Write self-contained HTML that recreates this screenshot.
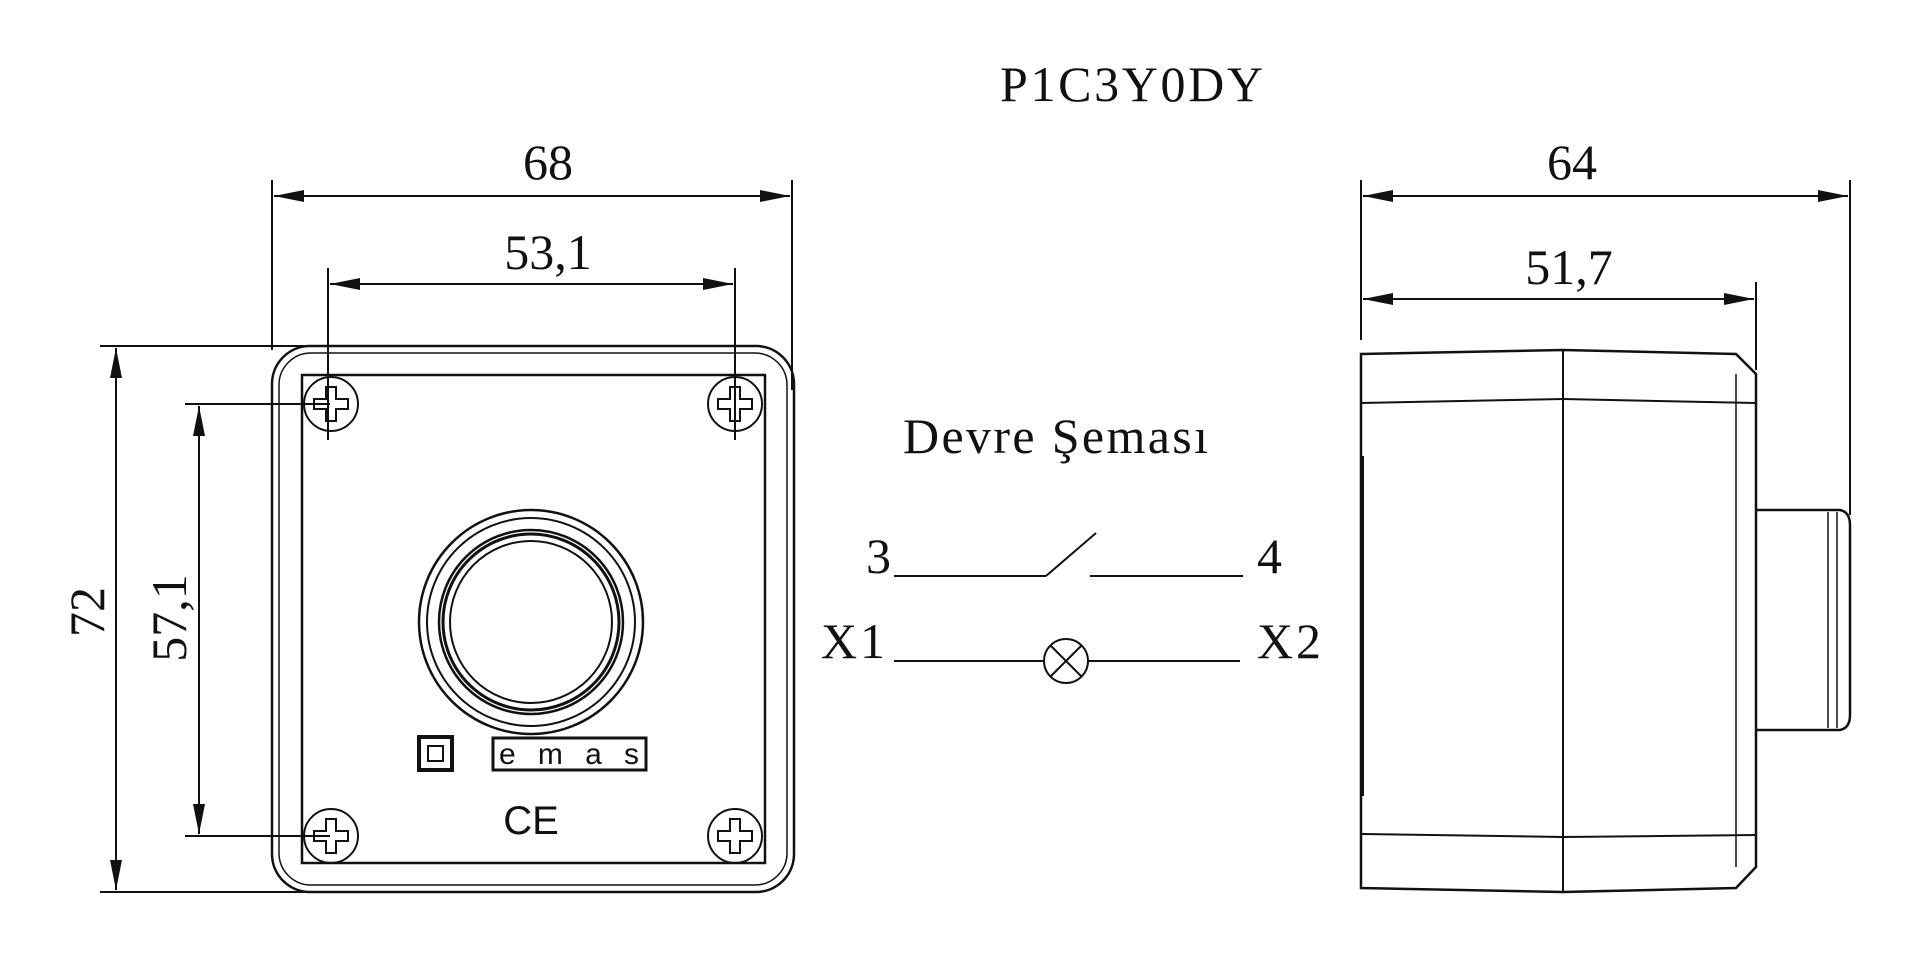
<!DOCTYPE html>
<html><head><meta charset="utf-8"><style>
html,body{margin:0;padding:0;background:#fff;width:1920px;height:970px;overflow:hidden}
svg text{font-family:"Liberation Serif",serif;fill:#111}
</style></head><body>
<svg width="1920" height="970" viewBox="0 0 1920 970" xmlns="http://www.w3.org/2000/svg">
<defs>
<marker id="a" markerWidth="30" markerHeight="12" refX="30" refY="6" orient="auto" markerUnits="userSpaceOnUse"><path d="M0,0 L30,6 L0,12 z" fill="#111"/></marker>
<marker id="b" markerWidth="30" markerHeight="12" refX="0" refY="6" orient="auto" markerUnits="userSpaceOnUse"><path d="M30,0 L0,6 L30,12 z" fill="#111"/></marker>
</defs>
<g stroke="#111" stroke-width="2" fill="none">
<line x1="272" y1="180" x2="272" y2="350"/><line x1="792" y1="180" x2="792" y2="390"/>
<line x1="274" y1="196" x2="790" y2="196" marker-start="url(#b)" marker-end="url(#a)"/>
<line x1="328" y1="268" x2="328" y2="440"/><line x1="735" y1="268" x2="735" y2="440"/>
<line x1="330" y1="284" x2="733" y2="284" marker-start="url(#b)" marker-end="url(#a)"/>
<line x1="100" y1="346" x2="330" y2="346"/><line x1="100" y1="892" x2="330" y2="892"/>
<line x1="116" y1="348" x2="116" y2="890" marker-start="url(#b)" marker-end="url(#a)"/>
<line x1="185" y1="404" x2="330" y2="404"/><line x1="185" y1="836" x2="330" y2="836"/>
<line x1="199" y1="406" x2="199" y2="834" marker-start="url(#b)" marker-end="url(#a)"/>
<rect x="272" y="346" width="522" height="546" rx="38" stroke-width="2.5"/>
<rect x="279" y="353" width="508" height="532" rx="32" stroke-width="1.5"/>
<rect x="302" y="375" width="463" height="488" stroke-width="2.5"/>
<g stroke-width="2">
<circle cx="331" cy="404" r="27"/><circle cx="735" cy="404" r="27"/>
<circle cx="331" cy="836" r="27"/><circle cx="735" cy="836" r="27"/>
<path d="M326,387 h10 v12 h12 v10 h-12 v12 h-10 v-12 h-12 v-10 h12 z"/>
<path d="M730,387 h10 v12 h12 v10 h-12 v12 h-10 v-12 h-12 v-10 h12 z"/>
<path d="M326,819 h10 v12 h12 v10 h-12 v12 h-10 v-12 h-12 v-10 h12 z"/>
<path d="M730,819 h10 v12 h12 v10 h-12 v12 h-10 v-12 h-12 v-10 h12 z"/>
</g>
<circle cx="531" cy="622" r="112" stroke-width="2.5"/>
<circle cx="531" cy="622" r="104" stroke-width="2"/>
<circle cx="531" cy="622" r="92" stroke-width="2.5"/>
<circle cx="531" cy="622" r="88" stroke-width="3"/>
<circle cx="531" cy="622" r="81" stroke-width="2"/>
<rect x="419" y="737" width="33" height="33" stroke-width="4"/>
<rect x="428" y="746" width="15" height="15" stroke-width="2"/>
<rect x="493" y="738" width="153" height="32" stroke-width="3"/>
<line x1="894" y1="576" x2="1046" y2="576"/><line x1="1046" y1="576" x2="1096" y2="533"/>
<line x1="1090" y1="576" x2="1243" y2="576"/>
<line x1="894" y1="661" x2="1044" y2="661"/><line x1="1088" y1="661" x2="1240" y2="661"/>
<circle cx="1066" cy="661" r="22"/>
<line x1="1050" y1="645" x2="1082" y2="677"/><line x1="1082" y1="645" x2="1050" y2="677"/>
<line x1="1361" y1="180" x2="1361" y2="340"/><line x1="1850" y1="180" x2="1850" y2="515"/>
<line x1="1363" y1="196" x2="1848" y2="196" marker-start="url(#b)" marker-end="url(#a)"/>
<line x1="1756" y1="282" x2="1756" y2="370"/>
<line x1="1363" y1="299" x2="1754" y2="299" marker-start="url(#b)" marker-end="url(#a)"/>
<path d="M1361,354 L1563,350 L1736,354 L1756,374 L1756,867 L1736,888 L1563,892 L1361,888 Z" stroke-width="2.5"/>
<line x1="1361" y1="403" x2="1563" y2="399"/><line x1="1563" y1="399" x2="1756" y2="403"/>
<line x1="1361" y1="834" x2="1563" y2="837"/><line x1="1563" y1="837" x2="1756" y2="835"/>
<line x1="1563" y1="350" x2="1563" y2="892"/>
<line x1="1736" y1="374" x2="1736" y2="867" stroke-width="1.5"/>
<line x1="1362" y1="456" x2="1362" y2="796" stroke-width="4"/>
<path d="M1756,510 L1840,510 Q1850,512 1850,525 L1850,715 Q1850,728 1840,730 L1756,730" stroke-width="2.5"/>
<line x1="1828" y1="512" x2="1828" y2="728" stroke-width="1.5"/><line x1="1837" y1="512" x2="1837" y2="728" stroke-width="1.5"/>
</g>
<g font-size="50">
<text x="548" y="179" text-anchor="middle">68</text>
<text x="548" y="269" text-anchor="middle">53,1</text>
<text transform="translate(104,612) rotate(-90)" text-anchor="middle">72</text>
<text transform="translate(186,618) rotate(-90)" text-anchor="middle">57,1</text>
<text x="1000" y="101" textLength="263">P1C3Y0DY</text>
<text x="903" y="453" textLength="305">Devre Şeması</text>
<text x="866" y="573">3</text><text x="1257" y="573">4</text>
<text x="821" y="658" textLength="64">X1</text><text x="1257" y="658" textLength="64">X2</text>
<text x="1572" y="179" text-anchor="middle">64</text>
<text x="1569" y="284" text-anchor="middle">51,7</text>
</g>
<text x="569" y="764" font-size="30" text-anchor="middle" textLength="140" style="font-family:'Liberation Sans',sans-serif">emas</text>
<text x="531" y="834" text-anchor="middle" style="font-family:'Liberation Sans',sans-serif" font-size="40">CE</text>
</svg>
</body></html>
